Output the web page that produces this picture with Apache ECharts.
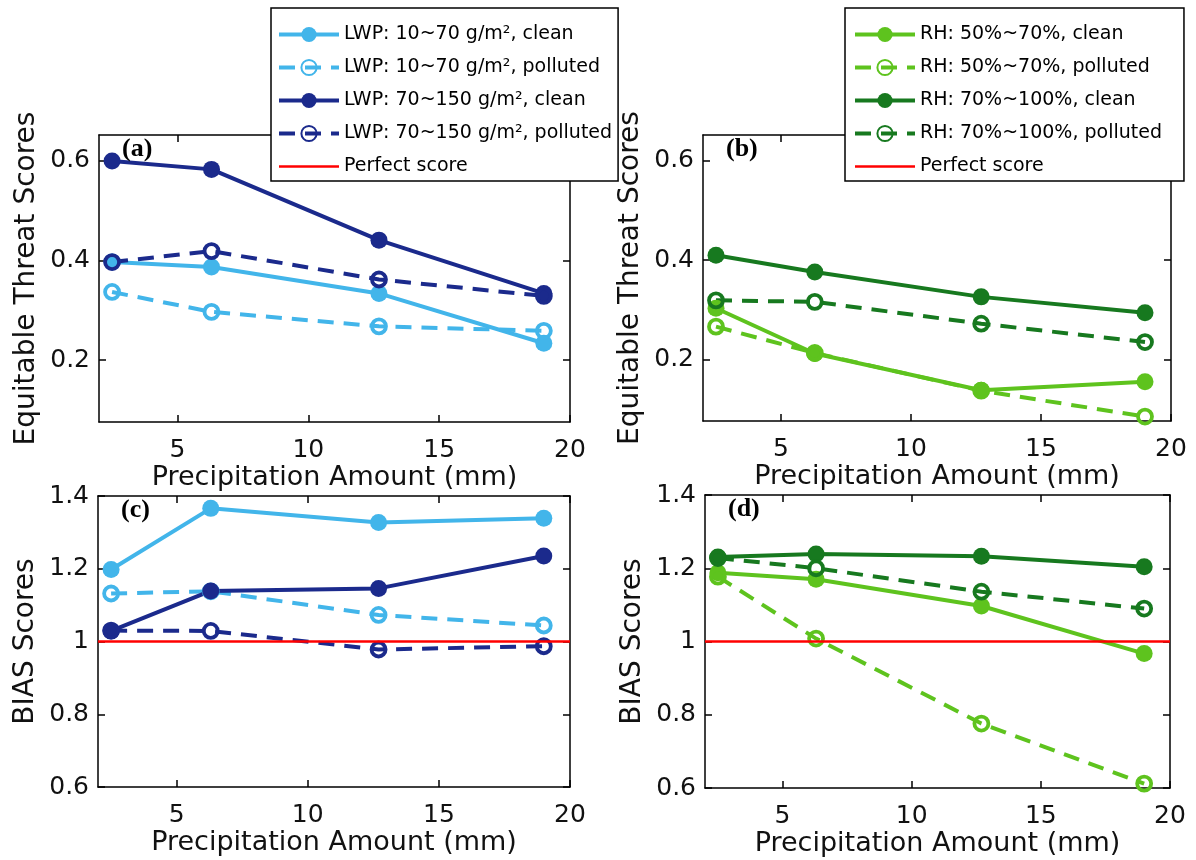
<!DOCTYPE html>
<html>
<head>
<meta charset="utf-8">
<script src="https://cdn.jsdelivr.net/npm/echarts@6/dist/echarts.min.js"></script>
<style>
  html, body { margin: 0; padding: 0; background: #fff; }
  #chart { width: 1196px; height: 860px; }
</style>
</head>
<body>
<div id="chart"></div>
<script>
// precipitation thresholds (mm)
const xVals = [2.5, 6.3, 12.7, 19];

// (a) ETS, grouped by LWP
const etsLwpLowClean = [0.397, 0.387, 0.334, 0.234];
const etsLwpLowPolluted = [0.337, 0.297, 0.268, 0.259];
const etsLwpHighClean = [0.6, 0.583, 0.441, 0.334];
const etsLwpHighPolluted = [0.397, 0.419, 0.362, 0.329];
// (b) ETS, grouped by RH
const etsRhLowClean = [0.303, 0.212, 0.138, 0.155];
const etsRhLowPolluted = [0.266, 0.213, 0.137, 0.085];
const etsRhHighClean = [0.41, 0.376, 0.326, 0.294];
const etsRhHighPolluted = [0.319, 0.316, 0.272, 0.235];
// (c) BIAS, grouped by LWP
const biasLwpLowClean = [1.198, 1.366, 1.327, 1.339];
const biasLwpLowPolluted = [1.132, 1.138, 1.073, 1.044];
const biasLwpHighClean = [1.029, 1.139, 1.146, 1.235];
const biasLwpHighPolluted = [1.03, 1.029, 0.978, 0.987];
// (d) BIAS, grouped by RH
const biasRhLowClean = [1.188, 1.17, 1.097, 0.967];
const biasRhLowPolluted = [1.177, 1.008, 0.776, 0.612];
const biasRhHighClean = [1.231, 1.239, 1.233, 1.204];
const biasRhHighPolluted = [1.228, 1.2, 1.136, 1.09];

const perfectScore = 1;
const xTicks = [5, 10, 15, 20];
const etsTicks = [0.2, 0.4, 0.6];
const biasTicks = [0.6, 0.8, 1, 1.2, 1.4];

const lwpNames = ['LWP: 10~70 g/m², clean', 'LWP: 10~70 g/m², polluted',
                  'LWP: 70~150 g/m², clean', 'LWP: 70~150 g/m², polluted', 'Perfect score'];
const rhNames = ['RH: 50%~70%, clean', 'RH: 50%~70%, polluted',
                 'RH: 70%~100%, clean', 'RH: 70%~100%, polluted', 'Perfect score'];
const panelLabels = ['(a)', '(b)', '(c)', '(d)'];

const lightBlue = '#42b5ea';
const navy = '#1b2a8c';
const lightGreen = '#5ec31e';
const darkGreen = '#17791f';
const font = 'DejaVu Sans';

const grids = [
  { left: 99, top: 135, width: 471, height: 287 },
  { left: 703, top: 135, width: 468, height: 286 },
  { left: 98, top: 496, width: 472, height: 291 },
  { left: 705, top: 495, width: 465, height: 293 }
];

function lineSeries(name, vals, color, polluted, g) {
  return {
    type: 'line', name: name,
    xAxisIndex: g * 2, yAxisIndex: g * 2,
    data: xVals.map((x, i) => [x, vals[i]]),
    symbol: 'circle',
    symbolSize: polluted ? 14 : 17,
    lineStyle: { color: color, width: 4, type: polluted ? [16, 10] : 'solid' },
    itemStyle: polluted
      ? { color: 'rgba(255,255,255,0)', borderColor: color, borderWidth: 3.8 }
      : { color: color, borderWidth: 0 },
    emphasis: { disabled: true },
    z: 3
  };
}

function redLine(g) {
  return {
    type: 'line', name: 'Perfect score',
    xAxisIndex: g * 2, yAxisIndex: g * 2,
    data: [[2, perfectScore], [20, perfectScore]],
    symbol: 'none',
    lineStyle: { color: '#ff0000', width: 2.5 },
    itemStyle: { color: '#ff0000' },
    z: 4
  };
}

const axisLine = { show: true, onZero: false, lineStyle: { color: '#000', width: 1.5 } };

const xAxes = [], yAxes = [];
grids.forEach((gr, g) => {
  const bias = g >= 2;
  const yTicks = bias ? biasTicks : etsTicks;
  const yMin = bias ? 0.6 : 0.076;
  const yMax = bias ? 1.4 : 0.652;
  xAxes.push({
    type: 'value', gridIndex: g, min: 2, max: 20, position: 'bottom',
    axisLine: axisLine,
    axisTick: { inside: true, length: 7, customValues: xTicks, lineStyle: { color: '#000', width: 1.5 } },
    axisLabel: { customValues: xTicks, fontSize: 25, fontFamily: font, color: '#111', margin: 16 },
    splitLine: { show: false },
    name: 'Precipitation Amount (mm)', nameLocation: 'middle', nameGap: 42,
    nameTextStyle: { fontSize: 27, fontFamily: font, color: '#111' }
  });
  xAxes.push({
    type: 'value', gridIndex: g, min: 2, max: 20, position: 'top',
    axisLine: axisLine,
    axisTick: { inside: true, length: 7, customValues: xTicks, lineStyle: { color: '#000', width: 1.5 } },
    axisLabel: { show: false }, splitLine: { show: false }
  });
  yAxes.push({
    type: 'value', gridIndex: g, min: yMin, max: yMax, position: 'left',
    axisLine: axisLine,
    axisTick: { inside: true, length: 7, customValues: yTicks, lineStyle: { color: '#000', width: 1.5 } },
    axisLabel: { customValues: yTicks, fontSize: 25, fontFamily: font, color: '#111', margin: 9 },
    splitLine: { show: false },
    name: bias ? 'BIAS Scores' : 'Equitable Threat Scores',
    nameLocation: 'middle', nameGap: 58,
    nameTextStyle: { fontSize: 28, fontFamily: font, color: '#111' }
  });
  yAxes.push({
    type: 'value', gridIndex: g, min: yMin, max: yMax, position: 'right',
    axisLine: axisLine,
    axisTick: { inside: true, length: 7, customValues: yTicks, lineStyle: { color: '#000', width: 1.5 } },
    axisLabel: { show: false }, splitLine: { show: false }
  });
});

const series = [
  lineSeries(lwpNames[0], etsLwpLowClean, lightBlue, false, 0),
  lineSeries(lwpNames[1], etsLwpLowPolluted, lightBlue, true, 0),
  lineSeries(lwpNames[2], etsLwpHighClean, navy, false, 0),
  lineSeries(lwpNames[3], etsLwpHighPolluted, navy, true, 0),
  lineSeries(rhNames[0], etsRhLowClean, lightGreen, false, 1),
  lineSeries(rhNames[1], etsRhLowPolluted, lightGreen, true, 1),
  lineSeries(rhNames[2], etsRhHighClean, darkGreen, false, 1),
  lineSeries(rhNames[3], etsRhHighPolluted, darkGreen, true, 1),
  lineSeries(lwpNames[0], biasLwpLowClean, lightBlue, false, 2),
  lineSeries(lwpNames[1], biasLwpLowPolluted, lightBlue, true, 2),
  lineSeries(lwpNames[2], biasLwpHighClean, navy, false, 2),
  lineSeries(lwpNames[3], biasLwpHighPolluted, navy, true, 2),
  redLine(2),
  lineSeries(rhNames[0], biasRhLowClean, lightGreen, false, 3),
  lineSeries(rhNames[1], biasRhLowPolluted, lightGreen, true, 3),
  lineSeries(rhNames[2], biasRhHighClean, darkGreen, false, 3),
  lineSeries(rhNames[3], biasRhHighPolluted, darkGreen, true, 3),
  redLine(3)
];

// legend entries: the red line shows no marker
function legendData(names) {
  return names.map(n => n === 'Perfect score'
    ? { name: n, itemStyle: { opacity: 0 }, lineStyle: { width: 2.5 } }
    : { name: n });
}

const legendBase = {
  orient: 'vertical', top: 8,
  itemWidth: 60, itemHeight: 19, itemGap: 14,
  backgroundColor: '#fff', borderColor: '#000', borderWidth: 1.5, borderRadius: 0,
  lineStyle: { width: 4 },
  textStyle: { fontSize: 19, fontFamily: font, color: '#000' },
  selectedMode: false, z: 10
};

const option = {
  animation: false,
  backgroundColor: '#fff',
  grid: grids,
  xAxis: xAxes,
  yAxis: yAxes,
  title: grids.map((gr, g) => ({
    text: panelLabels[g], left: gr.left + 23, top: gr.top + 1, padding: 0,
    textStyle: { fontFamily: 'Liberation Serif', fontWeight: 'bold', fontSize: 26, color: '#000' }
  })),
  legend: [
    Object.assign({}, legendBase, { data: legendData(lwpNames), left: 271, padding: [17, 6, 5, 6] }),
    Object.assign({}, legendBase, { data: legendData(rhNames), left: 845, padding: [17, 22, 5, 8] })
  ],
  series: series
};

const myChart = echarts.init(document.getElementById('chart'));
myChart.setOption(option);
</script>
</body>
</html>
